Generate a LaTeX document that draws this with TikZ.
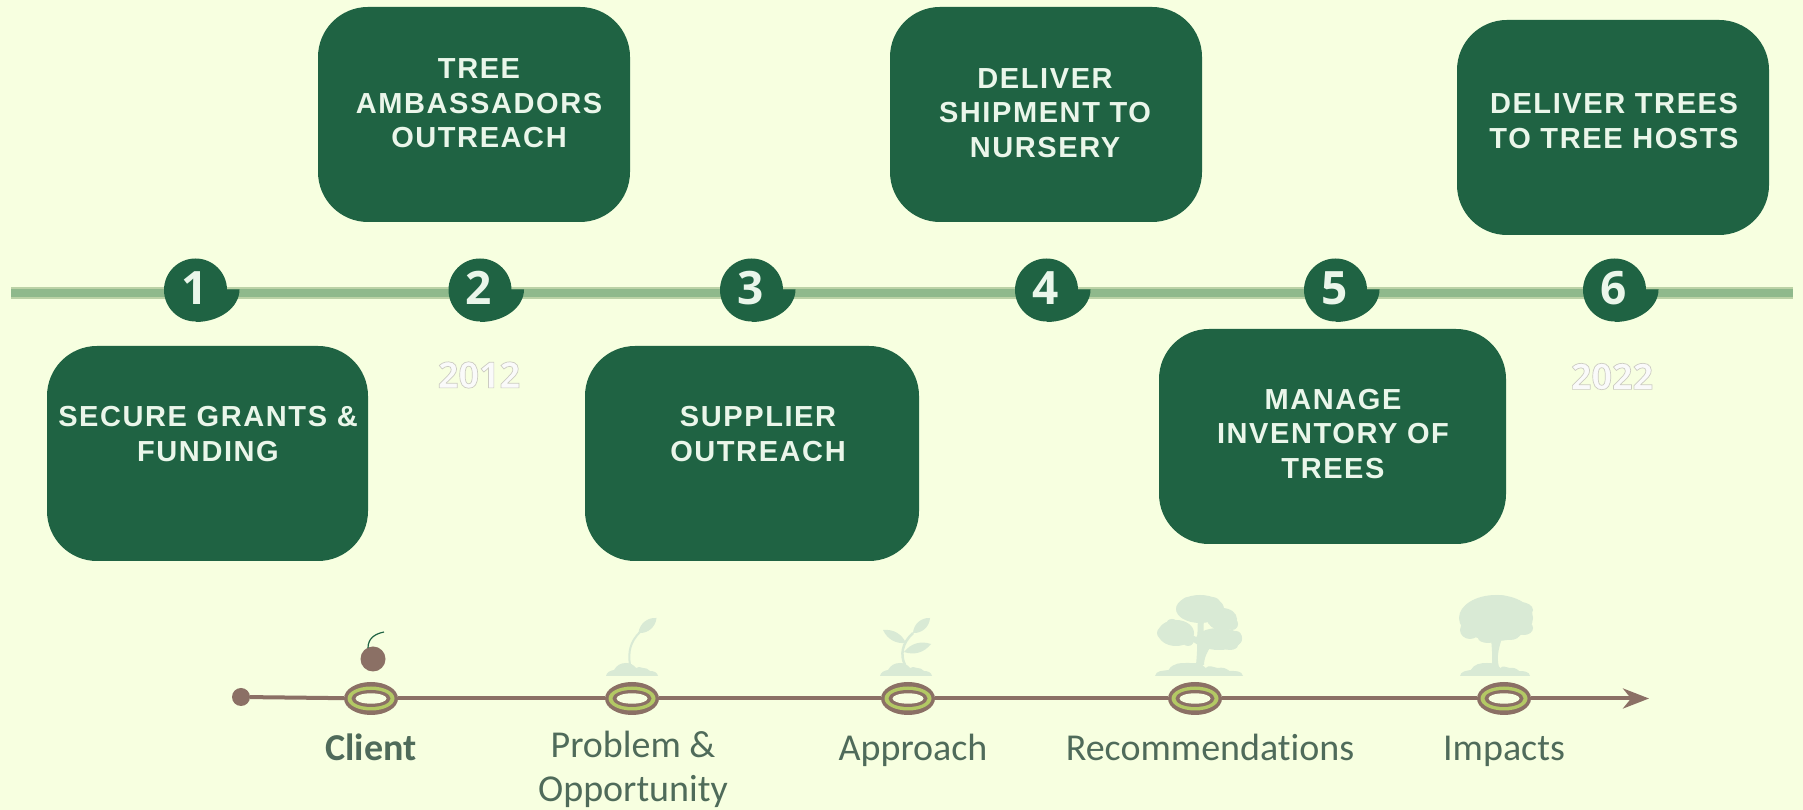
\documentclass[tikz,border=0pt]{standalone}
\usepackage{fontspec}
\usetikzlibrary{arrows.meta,shapes.geometric}
\setmainfont[RawFeature={-liga}]{Carlito}
\newfontfamily\boxfont[LetterSpace=5.5]{Liberation Sans}
\newfontfamily\numfont{Open Sans}

\definecolor{paper}{HTML}{F7FFE0}
\definecolor{boxgreen}{HTML}{1F6343}
\definecolor{railgreen}{HTML}{8FB98C}
\definecolor{railedge}{HTML}{BBD2A6}
\definecolor{boxtext}{HTML}{EAF6EA}
\definecolor{stembrown}{HTML}{8B7065}
\definecolor{ringgreen}{HTML}{B3C964}
\definecolor{iconpale}{HTML}{D9EAD5}
\definecolor{labelgreen}{HTML}{4F6B5A}

\tikzset{
    stagebox/.style={fill=boxgreen, rounded corners=50pt, inner sep=0pt},
    stagetext/.style={font=\boxfont\bfseries\fontsize{29}{34.5}\selectfont, text=boxtext, align=center, inner sep=0pt},
    badgenode/.style={circle, fill=boxgreen, minimum size=63pt, inner sep=0pt, text=boxtext, font=\numfont\bfseries\fontsize{46}{46}\selectfont},
    yeartext/.style={font=\numfont\bfseries\fontsize{36}{36}\selectfont, text=white!96!gray, inner sep=0pt},
    ringnode/.style={ellipse, fill=stembrown, minimum width=54pt, minimum height=33pt, inner sep=0pt},
    steptext/.style={font=\fontsize{38}{44}\selectfont, text=labelgreen, align=center, inner sep=0pt, anchor=base},
    icon/.style={fill=iconpale, draw=none},
}

% badge with its tail: name, x, digit
\newcommand{\badge}[3]{
    \fill[boxgreen] (#2,488) arc[start angle=-90, end angle=0, x radius=44, y radius=32.5] -- ++(-13,0) -- (#2,520) -- cycle;
    \node[badgenode] (#1) at (#2,520) {\hspace{-2pt}\raisebox{4pt}{#3}};
}
% ring on the lower line: name, x
\newcommand{\ring}[2]{
    \node[ringnode] (#1) at (#2,111.5) {};
    \fill[ringgreen] (#1.center) ellipse (23.5 and 12);
    \fill[stembrown] (#1.center) ellipse (19.5 and 8.5);
    \fill[paper] (#1.center) ellipse (15.5 and 5.2);
}
% ground under a plant: left x, right x
\newcommand{\mound}[2]{
    \begin{scope}[shift={(#1,134)}, x={({(#2-#1)/52*1pt},0)}, y={(0,1pt)}]
        \fill[icon] (0,0) to[out=80,in=190] (8,6) to[out=60,in=180] (20,13) to[out=0,in=130] (30,8)
            to[out=50,in=170] (37,8) to[out=10,in=140] (44,5) to[out=0,in=100] (52,0) -- cycle;
    \end{scope}
}
% outlined year
\newcommand{\outlined}[1]{\special{pdf:code q 2 Tr 0.7 w 0.80 0.80 0.76 RG}#1\special{pdf:code Q 0 Tr}}

\begin{document}
\begin{tikzpicture}[x=1pt,y=1pt]
    \path[fill=paper, use as bounding box] (0,0) rectangle (1803,810);

    % upper line with the numbers
    \coordinate (railstart) at (11,517);
    \coordinate (railend) at (1793,517);
    \draw[railedge, line width=12.5pt] (railstart) -- (railend);
    \draw[railgreen, line width=8.5pt] (railstart) -- (railend);

    \badge{one}{195.5}{1}
    \badge{two}{480}{2}
    \badge{three}{751.5}{3}
    \badge{four}{1046.5}{4}
    \badge{five}{1335.5}{5}
    \badge{six}{1614.5}{6}

    \node[yeartext] (yearstart) at (479,435) {\outlined{2012}};
    \node[yeartext] (yearend) at (1612,433.5) {\outlined{2022}};

    % the six boxes
    \node[stagebox, minimum width=321pt, minimum height=215pt] (secure) at (207.5,356.5) {};
    \node[stagebox, minimum width=312pt, minimum height=215pt] (ambassadors) at (474,695.5) {};
    \node[stagebox, minimum width=334pt, minimum height=215pt] (supplier) at (752,356.5) {};
    \node[stagebox, minimum width=312pt, minimum height=215pt] (shipment) at (1046,695.5) {};
    \node[stagebox, minimum width=347pt, minimum height=215pt] (inventory) at (1332.5,373.5) {};
    \node[stagebox, minimum width=312pt, minimum height=215pt] (hosts) at (1613,682.5) {};

    \node[stagetext] (securetext) at (208,376) {SECURE GRANTS \&\\FUNDING};
    \node[stagetext] (ambassadorstext) at (479,706.5) {TREE\\AMBASSADORS\\OUTREACH};
    \node[stagetext] (suppliertext) at (758,376) {SUPPLIER\\OUTREACH};
    \node[stagetext] (shipmenttext) at (1045,697) {DELIVER\\SHIPMENT TO\\NURSERY};
    \node[stagetext] (inventorytext) at (1333,376) {MANAGE\\INVENTORY OF\\TREES};
    \node[stagetext] (hoststext) at (1614,689) {DELIVER TREES\\TO TREE HOSTS};

    % lower line
    \node[circle, fill=stembrown, minimum size=18pt, inner sep=0pt] (origin) at (241,113) {};
    \ring{client}{371}
    \ring{problem}{632}
    \ring{approach}{908}
    \ring{recommend}{1195}
    \ring{impacts}{1504}
    \coordinate (tip) at (1649,111.5);
    \draw[stembrown, line width=4pt] (origin) -- (client);
    \draw[stembrown, line width=4pt] (client) -- (problem);
    \draw[stembrown, line width=4pt] (problem) -- (approach);
    \draw[stembrown, line width=4pt] (approach) -- (recommend);
    \draw[stembrown, line width=4pt] (recommend) -- (impacts);
    \draw[stembrown, line width=4pt, -{Stealth[length=26pt, width=20pt, inset=8pt]}] (impacts) -- (tip);

    \node[steptext] (clientlabel) at (371,49) {\bfseries Client};
    \node[steptext] (problemlabel) at (633,52) {Problem \&};
    \node[steptext] (opportunitylabel) at (633,8.5) {Opportunity};
    \node[steptext] (approachlabel) at (913,49) {Approach};
    \node[steptext] (recommendlabel) at (1210,49) {Recommendations};
    \node[steptext] (impactslabel) at (1504,49) {Impacts};

    % seed
    \fill[stembrown] (373,151) circle (12.5);
    \draw[boxgreen, line width=1.2pt] (368,162) .. controls (368,171) and (374,176) .. (384,178);

    % first sprout
    \mound{606}{658}
    \draw[iconpale, line width=2pt] (630,145) .. controls (628,158) and (630,168) .. (640,178);
    \fill[icon] (638.5,177) to[bend left=45] (656.5,192) to[bend left=45] (638.5,177);

    % second sprout
    \mound{880}{932}
    \draw[iconpale, line width=2.5pt] (905,145) .. controls (900,155) and (902,167) .. (913,177);
    \fill[icon] (913,177) to[bend left=45] (930,192) to[bend left=45] (913,177);
    \fill[icon] (906,167) to[bend left=35] (883,180) to[bend left=35] (906,167);
    \fill[icon] (904,158) to[bend right=35] (931,166) to[bend right=35] (904,158);

    % full tree
    \mound{1155}{1243}
    \fill[icon] (1196,145) .. controls (1198,165) and (1197,180) .. (1198,190) -- (1204,190) .. controls (1203,180) and (1204,172) .. (1206,168) -- (1212,175) -- (1216,172) .. controls (1210,162) and (1204,155) .. (1204,145) -- cycle;
    \fill[icon] (1198,165) -- (1178,178) -- (1181,181) -- (1198,172) -- cycle;
    \foreach \bx/\by/\brx/\bry in {
        1200/201/24/14, 1188/206/7/7, 1212/207/8/6, 1222/191/15/11, 1232/186/6/6,
        1176/177/18/13, 1163/177/6/6, 1172/186/6/5, 1188/170/6/6,
        1219/171/23/11, 1236/172/6/7, 1230/165/8/5, 1206/172/8/5}
        \fill[icon] (\bx,\by) ellipse (\brx pt and \bry pt);

    % round tree
    \mound{1460}{1530}
    \fill[icon] (1491,140) .. controls (1493,150) and (1492,160) .. (1491,172) -- (1502,172) .. controls (1498,160) and (1496,150) .. (1500,140) -- cycle;
    \foreach \bx/\by/\brx/\bry in {
        1496/192/37/23, 1478/200/14/7, 1498/207/15/8, 1520/200/13/8, 1470/180/10/9,
        1524/182/9/7, 1488/172/10/5, 1510/176/10/6}
        \fill[icon] (\bx,\by) ellipse (\brx pt and \bry pt);
\end{tikzpicture}
\end{document}
